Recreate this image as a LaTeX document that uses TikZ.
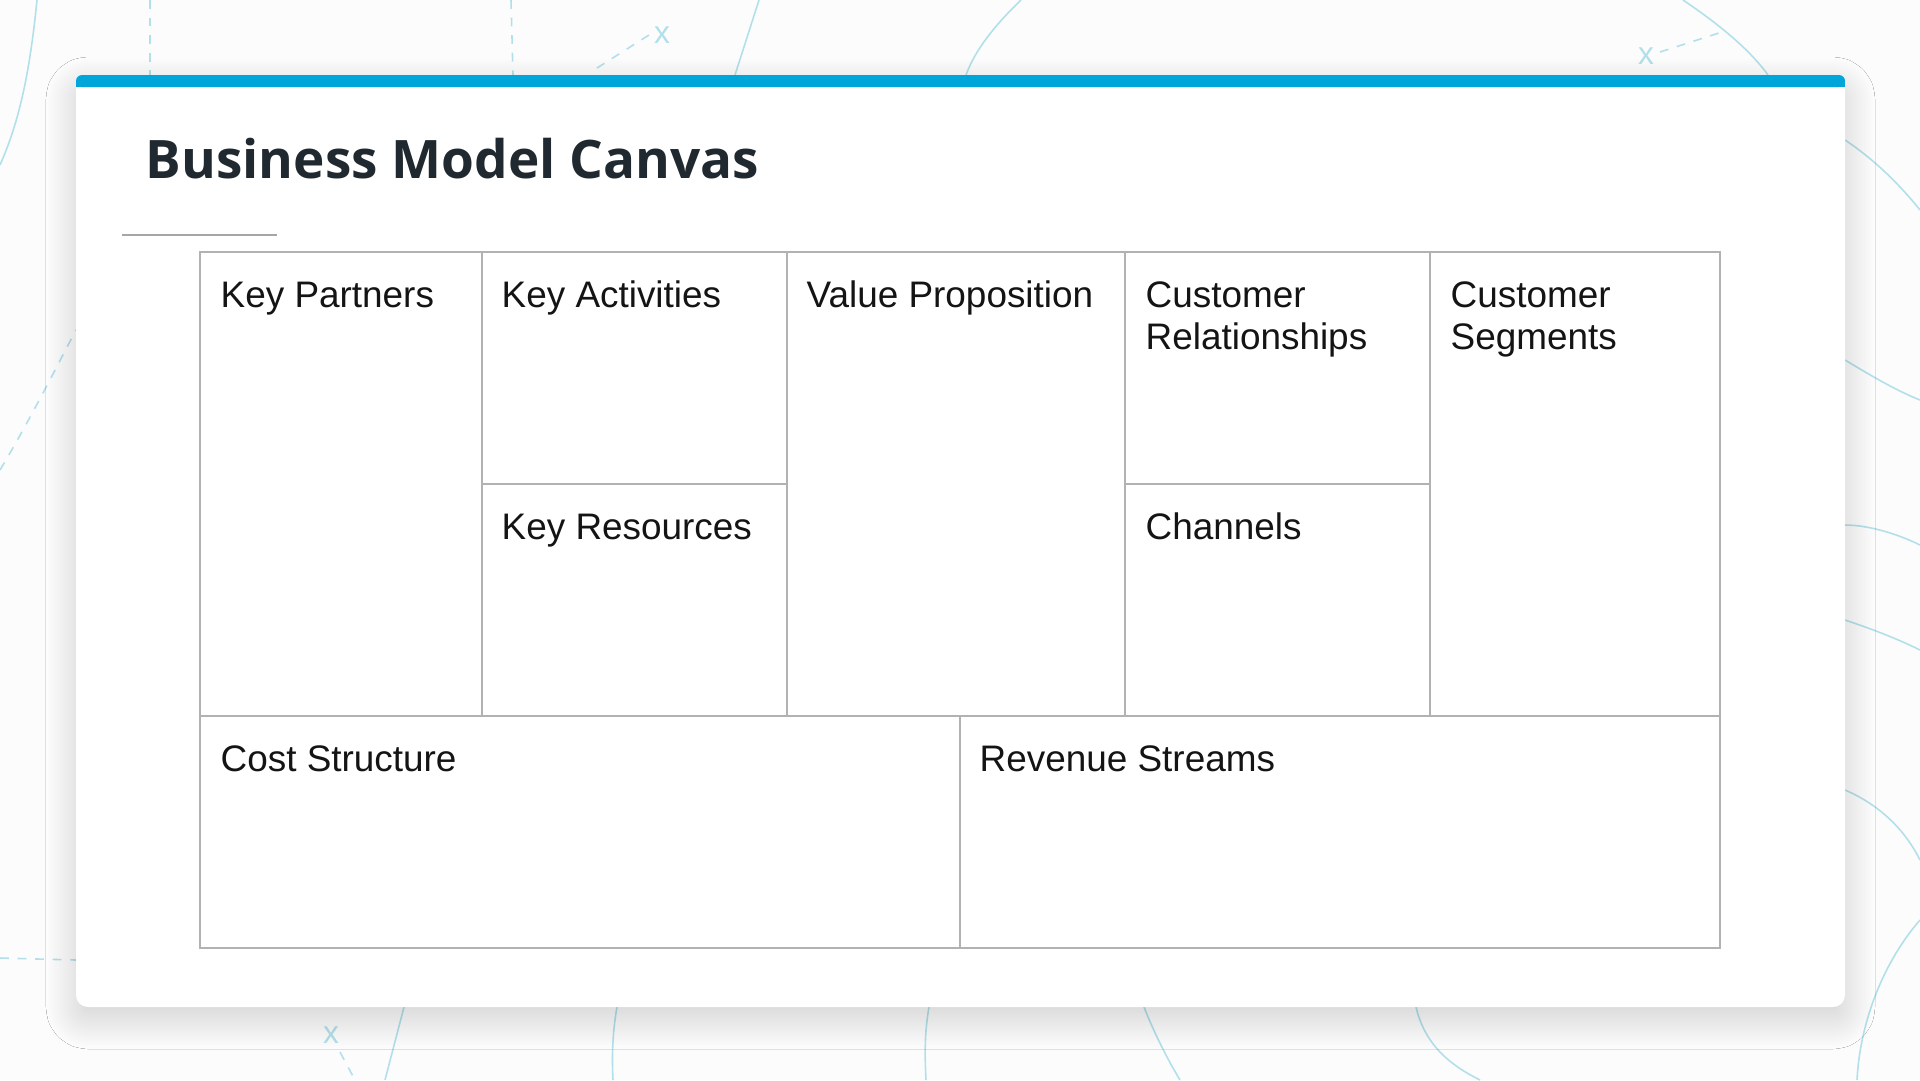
\documentclass[tikz,border=0pt]{standalone}
\usepackage{fontspec}
\setmainfont{Liberation Sans}
\newfontfamily\titlefont{Open Sans}
\usetikzlibrary{shadows.blur}
\definecolor{barblue}{RGB}{0,166,218}
\definecolor{decoblue}{RGB}{178,224,234}
\definecolor{titleink}{RGB}{33,41,48}
\tikzset{cell/.style={draw=gray!60,line width=.6pt},
 lbl/.style={anchor=base west,inner sep=0pt,align=left,font=\fontsize{10.5}{11.95}\selectfont,text=black!92},
 deco/.style={draw=decoblue,line width=.45pt},
 decodash/.style={deco,dash pattern=on 2.5pt off 2.5pt}}
\begin{document}
\begin{tikzpicture}[x=0.1mm,y=-0.1mm]
\useasboundingbox (0,0) rectangle (1920,1080);
\fill[gray!2] (0,0) rectangle (1920,1080);
\draw[deco] (37,0) .. controls (30,70) and (20,120) .. (0,165);
\draw[decodash] (150,0) -- (150,75);
\draw[decodash] (511,0) -- (513,75);
\draw[decodash] (597,68) -- (649,35);
\node[text=decoblue,font=\small] (x1) at (662,35) {x};
\draw[deco] (759,0) -- (735,75);
\draw[deco] (1021,0) .. controls (995,25) and (975,50) .. (966,75);
\draw[deco] (1683,0) .. controls (1720,25) and (1750,50) .. (1768,75);
\draw[decodash] (1660,52) -- (1722,32);
\node[text=decoblue,font=\small] (x2) at (1646,56) {x};
\draw[deco] (1845,140) .. controls (1875,160) and (1900,185) .. (1920,210);
\draw[deco] (1845,360) .. controls (1870,375) and (1895,390) .. (1920,400);
\draw[deco] (1845,525) .. controls (1870,525) and (1900,535) .. (1920,545);
\draw[deco] (1845,620) .. controls (1875,630) and (1900,640) .. (1920,650);
\draw[deco] (1845,790) .. controls (1880,805) and (1905,830) .. (1920,860);
\draw[decodash] (0,470) .. controls (30,420) and (60,360) .. (76,330);
\draw[decodash] (0,958) -- (76,960);
\draw[deco] (404,1007) -- (385,1080);
\draw[deco] (617,1007) .. controls (612,1035) and (612,1060) .. (613,1080);
\draw[deco] (929,1007) .. controls (924,1035) and (925,1060) .. (926,1080);
\draw[decodash] (340,1052) -- (355,1080);
\node[text=decoblue,font=\small] (x3) at (331,1035) {x};
\draw[deco] (1144,1007) .. controls (1155,1035) and (1168,1060) .. (1180,1080);
\draw[deco] (1416,1007) .. controls (1425,1045) and (1450,1065) .. (1480,1080);
\draw[deco] (1920,920) .. controls (1885,960) and (1860,1020) .. (1857,1080);
\fill[white,rounded corners=1.2mm,blur shadow={shadow blur radius=3mm,shadow blur steps=24,shadow xshift=0pt,shadow yshift=-1.2mm,shadow opacity=18}] (76,75) rectangle (1845,1007);
\fill[barblue,rounded corners=.6mm] (76,75) rectangle (1845,87);
\fill[barblue] (76,81) rectangle (1845,87);
\node[anchor=base west,inner sep=0pt,font=\titlefont\bfseries\fontsize{15.1}{18}\selectfont,text=titleink] (title) at (145,178) {Business Model Canvas};
\coordinate (ruleA) at (122,235);
\coordinate (ruleB) at (277,235);
\draw[gray!70,line width=.8pt] (ruleA) -- (ruleB);
\draw[cell] (200,252) rectangle (1720,948);
\draw[cell] (200,716) -- (1720,716);
\draw[cell] (482,252) -- (482,716) (787,252) -- (787,716) (1125,252) -- (1125,716) (1430,252) -- (1430,716);
\draw[cell] (482,484) -- (787,484) (1125,484) -- (1430,484);
\draw[cell] (960,716) -- (960,948);
\node[lbl] (partners) at (220,307) {Key Partners};
\node[lbl] (activities) at (501,307) {Key Activities};
\node[lbl] (resources) at (501,539) {Key Resources};
\node[lbl] (value) at (806,307) {Value Proposition};
\node[lbl] (relations) at (1145,349) {Customer\\Relationships};
\node[lbl] (channels) at (1145,539) {Channels};
\node[lbl] (segments) at (1450,349) {Customer\\Segments};
\node[lbl] (cost) at (220,771) {Cost Structure};
\node[lbl] (revenue) at (979,771) {Revenue Streams};
\end{tikzpicture}
\end{document}
